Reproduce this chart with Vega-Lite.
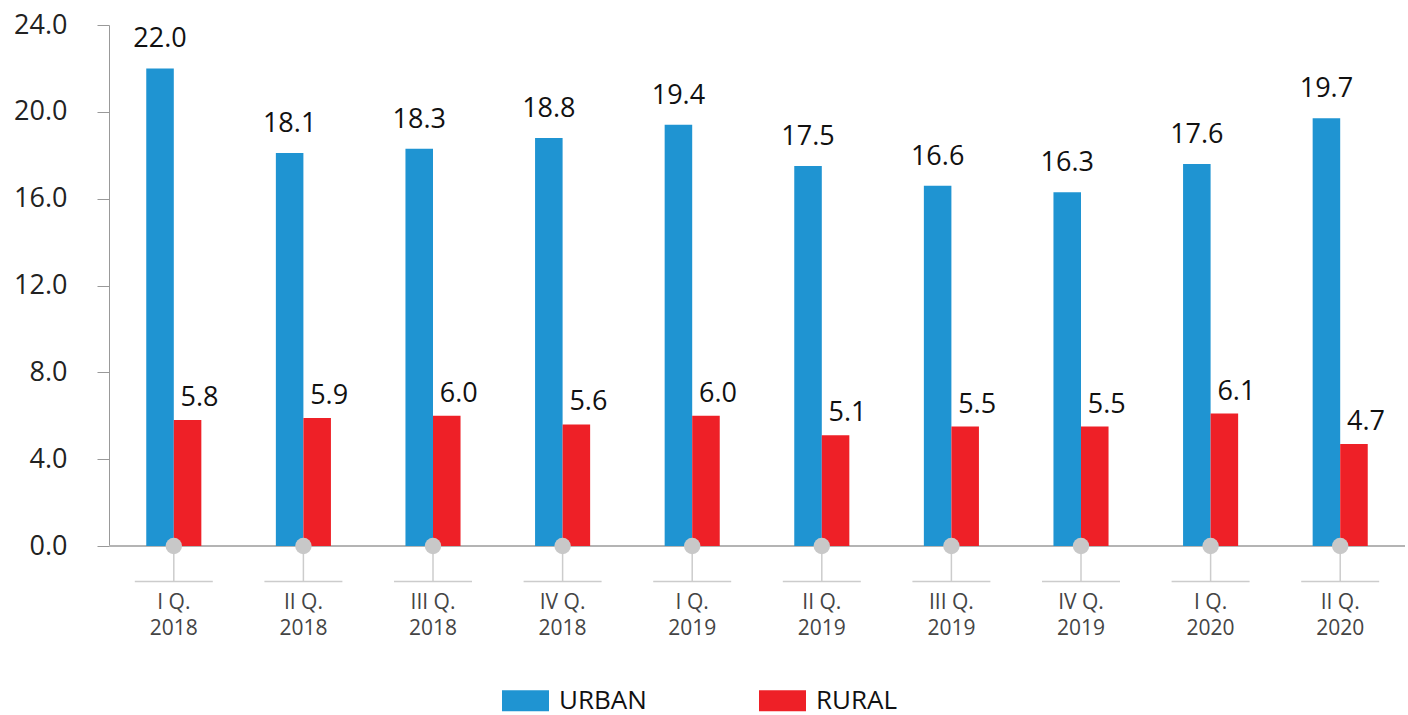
{
  "$schema": "https://vega.github.io/schema/vega-lite/v6.json",
  "autosize": {"type": "none"},
  "padding": {"left": 109, "top": 25, "right": 3, "bottom": 169},
  "width": 1296,
  "height": 521,
  "background": "white",
  "config": {
    "font": "Open Sans",
    "view": {"stroke": null},
    "legend": {"layout": {"bottom": {"anchor": "middle"}}}
  },
  "data": {
    "values": [
      {"quarter": "I Q. 2018", "series": "URBAN", "value": 22.0},
      {"quarter": "I Q. 2018", "series": "RURAL", "value": 5.8},
      {"quarter": "II Q. 2018", "series": "URBAN", "value": 18.1},
      {"quarter": "II Q. 2018", "series": "RURAL", "value": 5.9},
      {"quarter": "III Q. 2018", "series": "URBAN", "value": 18.3},
      {"quarter": "III Q. 2018", "series": "RURAL", "value": 6.0},
      {"quarter": "IV Q. 2018", "series": "URBAN", "value": 18.8},
      {"quarter": "IV Q. 2018", "series": "RURAL", "value": 5.6},
      {"quarter": "I Q. 2019", "series": "URBAN", "value": 19.4},
      {"quarter": "I Q. 2019", "series": "RURAL", "value": 6.0},
      {"quarter": "II Q. 2019", "series": "URBAN", "value": 17.5},
      {"quarter": "II Q. 2019", "series": "RURAL", "value": 5.1},
      {"quarter": "III Q. 2019", "series": "URBAN", "value": 16.6},
      {"quarter": "III Q. 2019", "series": "RURAL", "value": 5.5},
      {"quarter": "IV Q. 2019", "series": "URBAN", "value": 16.3},
      {"quarter": "IV Q. 2019", "series": "RURAL", "value": 5.5},
      {"quarter": "I Q. 2020", "series": "URBAN", "value": 17.6},
      {"quarter": "I Q. 2020", "series": "RURAL", "value": 6.1},
      {"quarter": "II Q. 2020", "series": "URBAN", "value": 19.7},
      {"quarter": "II Q. 2020", "series": "RURAL", "value": 4.7}
    ]
  },
  "encoding": {
    "x": {
      "field": "quarter",
      "type": "nominal",
      "sort": null,
      "scale": {"paddingInner": 0.575, "paddingOuter": 0.2875},
      "axis": {
        "title": null,
        "orient": "bottom",
        "offset": 34,
        "domain": false,
        "ticks": false,
        "tickSize": 0,
        "grid": false,
        "labelAngle": 0,
        "labelPadding": 11,
        "labelFontSize": 21,
        "labelLineHeight": 26,
        "labelColor": "#444444",
        "labelExpr": "[slice(datum.label, 0, -5), slice(datum.label, -4)]"
      }
    }
  },
  "layer": [
    {
      "mark": {"type": "rule", "color": "#b5b5b5", "strokeWidth": 1.5},
      "encoding": {
        "x": null,
        "y": {"datum": 0, "type": "quantitative"}
      }
    },
    {
      "transform": [{"filter": "datum.series === 'URBAN'"}],
      "mark": {"type": "rule", "color": "#cccccc", "strokeWidth": 1.5},
      "encoding": {
        "y": {"datum": 0, "type": "quantitative"},
        "y2": {"datum": -1.635}
      }
    },
    {
      "transform": [{"filter": "datum.series === 'URBAN'"}],
      "mark": {"type": "tick", "color": "#cccccc", "thickness": 1.5, "size": 78, "opacity": 1},
      "encoding": {
        "y": {"datum": -1.635, "type": "quantitative"}
      }
    },
    {
      "mark": {"type": "bar"},
      "encoding": {
        "xOffset": {"field": "series", "type": "nominal", "scale": {"domain": ["URBAN", "RURAL"], "paddingInner": 0, "paddingOuter": 0}},
        "y": {
          "field": "value",
          "type": "quantitative",
          "scale": {"domain": [0, 24], "nice": false, "zero": true},
          "axis": {
            "title": null,
            "values": [0, 4, 8, 12, 16, 20, 24],
            "format": ".1f",
            "labelFontSize": 27,
            "labelColor": "#222222",
            "labelPadding": 30,
            "tickSize": 12,
            "tickColor": "#999999",
            "domainColor": "#999999",
            "gridColor": "#e6e6e6",
            "labelFlush": false
          }
        },
        "color": {
          "field": "series",
          "type": "nominal",
          "scale": {"domain": ["URBAN", "RURAL"], "range": ["#1f94d2", "#ee2027"]},
          "legend": {
            "title": " ",
            "titleOrient": "right",
            "titlePadding": 116,
            "titleFontSize": 10,
            "orient": "bottom",
            "direction": "horizontal",
            "symbolType": "M-1,-0.45L1,-0.45L1,0.45L-1,0.45Z",
            "symbolSize": 2209,
            "symbolStrokeWidth": 0,
            "symbolOpacity": 1,
            "labelFontSize": 26,
            "labelColor": "#111111",
            "labelOffset": 10,
            "columnPadding": 112,
            "offset": 39
          }
        }
      }
    },
    {
      "transform": [{"filter": "datum.series === 'URBAN'"}],
      "mark": {"type": "point", "filled": true, "color": "#c8c8c8", "opacity": 1, "size": 270, "shape": "circle"},
      "encoding": {
        "y": {"datum": 0, "type": "quantitative"}
      }
    },
    {
      "transform": [{"filter": "datum.series === 'URBAN'"}],
      "mark": {"type": "text", "fontSize": 27, "color": "#111111", "baseline": "alphabetic", "dy": -21},
      "encoding": {
        "xOffset": {"field": "series", "type": "nominal", "scale": {"domain": ["URBAN", "RURAL"]}},
        "y": {"field": "value", "type": "quantitative"},
        "text": {"field": "value", "type": "quantitative", "format": ".1f"}
      }
    },
    {
      "transform": [{"filter": "datum.series === 'RURAL'"}],
      "mark": {"type": "text", "fontSize": 27, "color": "#111111", "baseline": "alphabetic", "dy": -14, "dx": 12},
      "encoding": {
        "xOffset": {"field": "series", "type": "nominal", "scale": {"domain": ["URBAN", "RURAL"]}},
        "y": {"field": "value", "type": "quantitative"},
        "text": {"field": "value", "type": "quantitative", "format": ".1f"}
      }
    }
  ]
}
